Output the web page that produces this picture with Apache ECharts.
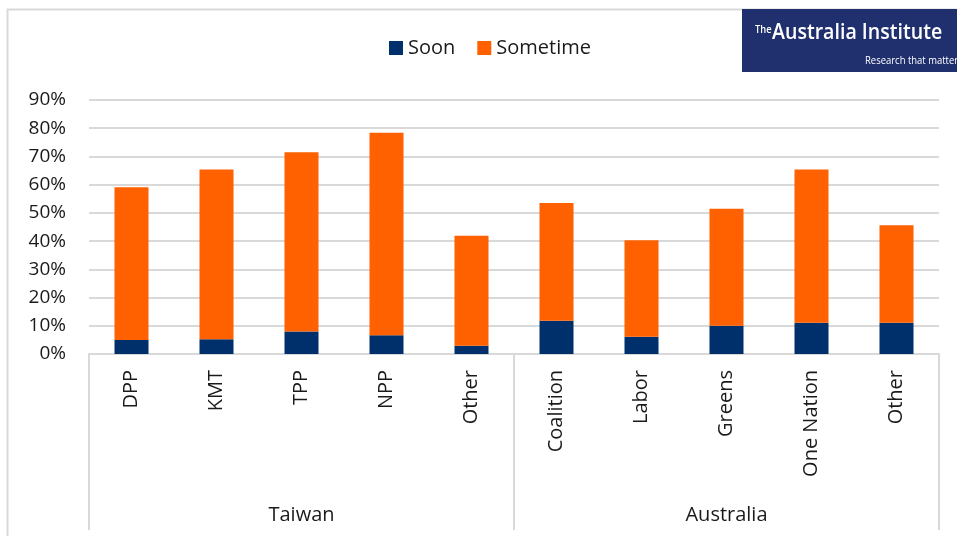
<!DOCTYPE html>
<html>
<head>
<meta charset="utf-8">
<script src="https://cdn.jsdelivr.net/npm/echarts@6/dist/echarts.min.js"></script>
<style>html,body{margin:0;padding:0;background:#fff}#c{width:957px;height:536px}</style>
</head>
<body>
<div id="c"></div>
<script>
const categories = ['DPP','KMT','TPP','NPP','Other','Coalition','Labor','Greens','One Nation','Other'];
const groups = ['Taiwan','Australia'];
const soon = [5.0, 5.2, 8.0, 6.6, 2.9, 11.8, 6.1, 10.0, 11.1, 11.1];
const sometime = [54.1, 60.2, 63.5, 71.8, 39.0, 41.7, 34.2, 41.5, 54.3, 34.5];
const seriesNames = ['Soon','Sometime'];
const yTicks = {min: 0, max: 90, step: 10};

const FONT = '"Open Sans", "Liberation Sans", sans-serif';
const TXT = '#1a1a1a';
const GRID = '#d9d9d9';

const chart = echarts.init(document.getElementById('c'), null, {renderer: 'canvas'});
chart.setOption({
  animation: false,
  backgroundColor: '#fff',
  textStyle: {fontFamily: FONT},
  grid: {left: 89, right: 18, top: 100, bottom: 182, containLabel: false},
  legend: {
    left: 389, top: 38, padding: 0,
    itemWidth: 14, itemHeight: 14, itemGap: 22,
    icon: 'rect',
    data: seriesNames,
    textStyle: {fontSize: 20, color: TXT, fontFamily: FONT}
  },
  xAxis: [
    {
      type: 'category', data: categories, gridIndex: 0,
      axisLine: {show: true, lineStyle: {color: GRID, width: 2}},
      axisTick: {show: false},
      axisLabel: {rotate: 90, margin: 16, fontSize: 20, color: TXT, fontFamily: FONT, interval: 0}
    },
    {
      type: 'category', data: groups, gridIndex: 0, position: 'bottom',
      axisLine: {show: false},
      axisTick: {show: true, length: 176, alignWithLabel: false, interval: 0, lineStyle: {color: GRID, width: 2}},
      axisLabel: {margin: 151, fontSize: 20, color: TXT, fontFamily: FONT, interval: 0}
    }
  ],
  yAxis: {
    type: 'value', min: yTicks.min, max: yTicks.max, interval: yTicks.step,
    axisLine: {show: false}, axisTick: {show: false},
    axisLabel: {formatter: '{value}%', margin: 23, fontSize: 19, color: TXT, fontFamily: FONT},
    splitLine: {lineStyle: {color: GRID, width: 2}}
  },
  series: [
    {name: seriesNames[0], type: 'bar', stack: 'a', data: soon, barWidth: 34, itemStyle: {color: '#00306c'}},
    {name: seriesNames[1], type: 'bar', stack: 'a', data: sometime, barWidth: 34, itemStyle: {color: '#ff6000'}}
  ],
  graphic: [
    {type: 'rect', silent: true, z: -1, shape: {x: 7.5, y: 9.5, width: 1200, height: 800}, style: {fill: 'none', stroke: GRID, lineWidth: 2}},
    {type: 'rect', z: 100, shape: {x: 742, y: 9, width: 230, height: 63}, style: {fill: '#20306e'}},
    {type: 'text', z: 101, x: 755, y: 24, scaleX: 0.85, style: {text: 'The', fill: '#fff', font: '600 11px ' + FONT}},
    {type: 'text', z: 101, x: 772, y: 22, scaleX: 0.89, style: {text: 'Australia Institute', fill: '#fff', font: '600 22px ' + FONT}},
    {type: 'text', z: 101, x: 865, y: 55, scaleX: 0.86, style: {text: 'Research that matters', fill: '#fff', font: '11px ' + FONT}}
  ]
});
</script>
</body>
</html>
